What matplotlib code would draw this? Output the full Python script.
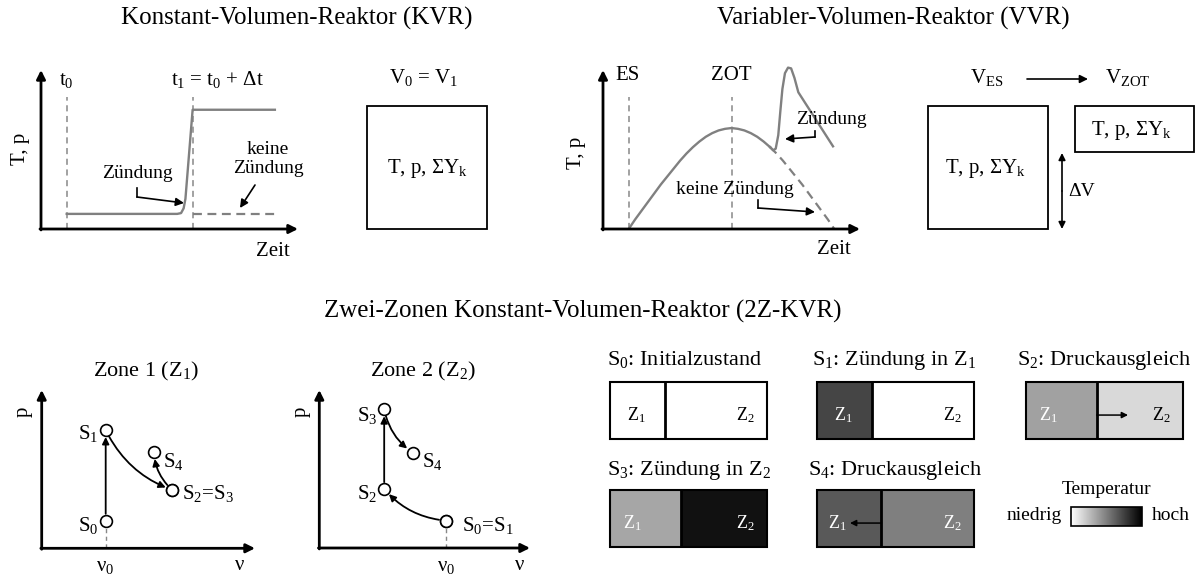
import matplotlib
matplotlib.use("Agg")
import matplotlib.pyplot as plt
import numpy as np
from matplotlib.colors import LinearSegmentedColormap
from matplotlib.patches import Rectangle

plt.rcParams['font.family'] = ['Liberation Serif', 'DejaVu Serif']
plt.rcParams['mathtext.fontset'] = 'custom'
plt.rcParams['mathtext.rm'] = 'Liberation Serif'
plt.rcParams['mathtext.it'] = 'Liberation Serif:italic'
plt.rcParams['mathtext.bf'] = 'Liberation Serif:bold'

# ---------------- data ----------------
# Konstant-Volumen-Reaktor (time / temperature schematic)
kvr_t0, kvr_t1 = 1.0, 5.9
kvr_time = [1.0, 5.3, 5.45, 5.55, 5.62, 5.9, 9.1]
kvr_temp = [0.95, 0.95, 1.0, 1.3, 1.9, 7.5, 7.5]
kvr_noign_time = [5.9, 9.1]
kvr_noign_temp = [0.95, 0.95]

# Variabler-Volumen-Reaktor
vvr_es, vvr_zot = 1.0, 5.0
vvr_time = [1.0, 1.25, 1.5, 1.75, 2.0, 2.25, 2.5, 2.75, 3.0, 3.25, 3.5, 3.75, 4.0,
            4.25, 4.5, 4.75, 5.0, 5.25, 5.5, 5.75, 6.0, 6.25, 6.5]
vvr_temp = [0.0, 0.6, 1.15, 1.7, 2.25, 2.8, 3.3, 3.8, 4.3, 4.75, 5.15, 5.5, 5.8,
            6.03, 6.2, 6.3, 6.35, 6.3, 6.2, 6.03, 5.8, 5.5, 5.15]
vvr_ign_time = [6.5, 6.62, 6.72, 6.82, 6.9, 6.98, 7.08, 7.2, 7.32, 7.45, 7.6, 8.95]
vvr_ign_temp = [5.15, 4.95, 5.05, 5.9, 7.4, 8.8, 9.8, 10.15, 10.1, 9.5, 8.6, 5.2]
vvr_noign_time = [6.5, 6.75, 7.0, 7.25, 7.5, 7.75, 8.0, 8.25, 8.5, 8.75, 9.0]
vvr_noign_temp = [5.15, 4.75, 4.3, 3.8, 3.3, 2.8, 2.25, 1.7, 1.15, 0.6, 0.0]

# Zwei-Zonen: states S0..S4 in the p-v diagrams
state_labels = ['S$_0$', 'S$_1$', 'S$_2$', 'S$_3$', 'S$_4$']
zone1_v = [3.0, 3.0, 6.12, 6.12, 5.26]
zone1_p = [1.74, 7.47, 3.68, 3.68, 6.08]
zone2_v = [6.01, 6.01, 3.08, 3.08, 4.43]
zone2_p = [1.73, 1.73, 3.73, 8.78, 6.03]
zone1_steps = [(0, 1, 0.0), (1, 2, 0.2), (3, 4, -0.2)]
zone2_steps = [(1, 2, -0.2), (2, 3, 0.0), (3, 4, 0.2)]

# state boxes: volume fraction and (relative) temperature of each zone
state_titles = ['S$_0$: Initialzustand', 'S$_1$: Zündung in Z$_1$',
                'S$_2$: Druckausgleich', 'S$_3$: Zündung in Z$_2$',
                'S$_4$: Druckausgleich']
z1_fraction = [0.35, 0.35, 0.45, 0.45, 0.41]
z1_temp = [0.0, 0.73, 0.37, 0.35, 0.65]
z2_temp = [0.0, 0.0, 0.15, 0.93, 0.50]
flow_dir = [0, 0, 1, 0, -1]

# ---------------- figure ----------------
W, H = 1198, 578
fig = plt.figure(figsize=(W / 100, H / 100), dpi=100)
cmap = LinearSegmentedColormap.from_list('temp', ['#ffffff', '#000000'])
GRAY = '#808080'
DASH = '#888888'


def panel(l, t, r, b, xlim=(0, 10), ylim=(0, 10)):
    ax = fig.add_axes([l / W, 1 - b / H, (r - l) / W, (b - t) / H])
    ax.set_xlim(*xlim)
    ax.set_ylim(*ylim)
    ax.axis('off')
    return ax


def axis_arrows(ax):
    kw = dict(arrowstyle='-|>', color='k', lw=2.0, mutation_scale=13,
              shrinkA=0, shrinkB=0)
    ax.annotate('', xy=(1, 0), xytext=(-0.004, 0), xycoords='axes fraction',
                arrowprops=kw, annotation_clip=False)
    ax.annotate('', xy=(0, 1), xytext=(0, -0.006), xycoords='axes fraction',
                arrowprops=kw, annotation_clip=False)


# overlay for text and schematic annotations (pixel coordinates)
ov = fig.add_axes([0, 0, 1, 1], zorder=10)
ov.set_xlim(0, W)
ov.set_ylim(H, 0)
ov.axis('off')
ov.patch.set_visible(False)


def T(x, y, s, fs=15, **kw):
    kw.setdefault('ha', 'center')
    kw.setdefault('va', 'center')
    ov.text(x, y, s, fontsize=fs, **kw)


def arrow(x0, y0, x1, y1, lw=1.2, ms=12, style='-|>'):
    ov.annotate('', xy=(x1, y1), xytext=(x0, y0),
                arrowprops=dict(arrowstyle=style, color='k', lw=lw,
                                mutation_scale=ms, shrinkA=0, shrinkB=0))


# ---- titles ----
T(297, 18, 'Konstant-Volumen-Reaktor (KVR)', fs=18)
T(893, 18, 'Variabler-Volumen-Reaktor (VVR)', fs=18)
T(583, 311, 'Zwei-Zonen Konstant-Volumen-Reaktor (2Z-KVR)', fs=18)

# ---- KVR plot ----
ax = panel(41, 70, 298, 229)
axis_arrows(ax)
for tv in (kvr_t0, kvr_t1):
    ax.plot([tv, tv], [0, 8.3], color=DASH, lw=1.1, ls=(0, (4, 3)))
ax.plot(kvr_time, kvr_temp, color=GRAY, lw=1.7, solid_joinstyle='round')
ax.plot(kvr_noign_time, kvr_noign_temp, color=GRAY, lw=1.6, ls=(0, (4, 2.5)))

T(66, 80, 't$_0$')
T(171, 80, 't$_1$ = t$_0$ + Δt', ha='left')
T(21, 149, 'T, p', rotation=90)
T(273, 251, 'Zeit')
T(137, 174, 'Zündung', fs=14)
T(268, 159, 'keine\nZündung', fs=14, linespacing=1.15)
ov.plot([137, 137], [188, 197], color='k', lw=1.2)
arrow(137, 197, 184, 203)
arrow(255, 185, 240, 208)

# KVR box
ov.add_patch(Rectangle((367, 106), 120, 123, fill=False, lw=1.3, ec='k'))
T(424, 78, 'V$_0$ = V$_1$')
T(427, 168, 'T, p, ΣY$_\\mathrm{k}$')

# ---- VVR plot ----
ax = panel(603, 70, 860, 229)
axis_arrows(ax)
for tv in (vvr_es, vvr_zot):
    ax.plot([tv, tv], [0, 8.3], color=DASH, lw=1.1, ls=(0, (4, 3)))
ax.plot(vvr_noign_time, vvr_noign_temp, color=GRAY, lw=1.6, ls=(0, (4, 2.5)))
ax.plot(vvr_time, vvr_temp, color=GRAY, lw=1.7, solid_joinstyle='round')
ax.plot(vvr_ign_time, vvr_ign_temp, color=GRAY, lw=1.7, solid_joinstyle='round',
        clip_on=False)

T(627, 75, 'ES')
T(731, 75, 'ZOT')
T(577, 153, 'T, p', rotation=90)
T(834, 250, 'Zeit')
T(831, 120, 'Zündung', fs=14)
T(735, 189, 'keine Zündung', fs=14)
ov.plot([815, 815], [131, 137], color='k', lw=1.2)
arrow(815, 137, 785, 139)
ov.plot([758, 758], [200, 208], color='k', lw=1.2)
arrow(758, 208, 815, 212)

# VVR boxes
ov.add_patch(Rectangle((928, 106), 120, 123, fill=False, lw=1.3, ec='k'))
ov.add_patch(Rectangle((1075, 106), 119, 46, fill=False, lw=1.3, ec='k'))
T(987, 77, 'V$_\\mathrm{ES}$')
T(1128, 78, 'V$_\\mathrm{ZOT}$')
arrow(1027, 79, 1088, 79)
T(985, 168, 'T, p, ΣY$_\\mathrm{k}$')
T(1131, 131, 'T, p, ΣY$_\\mathrm{k}$')
arrow(1062, 191, 1062, 153, ms=10)
arrow(1062, 191, 1062, 229, ms=10)
T(1082, 192, 'ΔV', fs=14)

# ---- Zone p-v diagrams ----
def zone(ax, v, p, steps):
    axis_arrows(ax)
    ax.plot([v[0], v[0]], [0, p[0]], color=DASH, lw=1.0, ls=(0, (3, 2.5)))
    for a, b, rad in steps:
        ax.annotate('', xy=(v[b], p[b]), xytext=(v[a], p[a]),
                    arrowprops=dict(arrowstyle='-|>', color='k', lw=1.3,
                                    mutation_scale=10, shrinkA=5, shrinkB=5,
                                    connectionstyle=f'arc3,rad={rad}'))
    ax.plot(v, p, ls='none', marker='o', ms=8.5, mfc='white', mec='k',
            mew=1.2, zorder=5)


ax1 = panel(41.7, 390, 255, 548.3)
zone(ax1, zone1_v, zone1_p, zone1_steps)
ax2 = panel(319.3, 390, 530, 548)
zone(ax2, zone2_v, zone2_p, zone2_steps)

T(146, 371, 'Zone 1 (Z$_1$)', fs=16)
T(423, 371, 'Zone 2 (Z$_2$)', fs=16)
T(23, 412, 'p', rotation=90)
T(301, 412, 'p', rotation=90)
T(105, 566, 'ν$_0$')
T(446, 566, 'ν$_0$')
T(240, 565, 'ν')
T(520, 565, 'ν')
# zone 1 labels
T(98, 434, state_labels[1], ha='right')
T(98, 525, state_labels[0], ha='right')
T(163, 462, state_labels[4], ha='left')
T(182, 494, state_labels[2] + '=' + state_labels[3], ha='left')
# zone 2 labels
T(378, 416, state_labels[3], ha='right')
T(422, 461, state_labels[4], ha='left')
T(377, 494, state_labels[2], ha='right')
T(462, 526, state_labels[0] + '=' + state_labels[1], ha='left')

# ---- state boxes ----
box_px = [(610, 382), (817, 382), (1026, 382), (610, 490), (817, 490)]
title_px = [(607, 360), (812, 360), (1017, 360), (607, 470), (808, 470)]
z1_label_x = [0.17, 0.17, 0.14, 0.14, 0.13]
for i in range(5):
    l, t = box_px[i]
    bx = panel(l, t, l + 157, t + 57, xlim=(0, 1), ylim=(0, 1))
    f = z1_fraction[i]
    bx.barh(0.5, f, height=1.0, left=0, color=cmap(z1_temp[i]), lw=0)
    bx.barh(0.5, 1 - f, height=1.0, left=f, color=cmap(z2_temp[i]), lw=0)
    bx.axvline(f, color='k', lw=2.0)
    bx.add_patch(Rectangle((0, 0), 1, 1, fill=False, lw=1.5, ec='k',
                           transform=bx.transAxes, clip_on=False))
    c1 = 'white' if z1_temp[i] > 0.3 else 'black'
    c2 = 'white' if z2_temp[i] > 0.3 else 'black'
    bx.text(z1_label_x[i], 0.42, 'Z$_1$', color=c1, fontsize=13,
            ha='center', va='center')
    bx.text(0.86, 0.42, 'Z$_2$', color=c2, fontsize=13, ha='center',
            va='center')
    if flow_dir[i] != 0:
        end = f + 0.2 * flow_dir[i]
        bx.annotate('', xy=(end, 0.42), xytext=(f, 0.42),
                    arrowprops=dict(arrowstyle='-|>', color='k', lw=1.1,
                                    mutation_scale=9, shrinkA=0, shrinkB=0))
    T(title_px[i][0], title_px[i][1], state_titles[i], fs=16, ha='left')

# ---- temperature legend ----
lx = panel(1071, 507, 1142, 526, xlim=(0, 1), ylim=(0, 1))
lx.imshow(np.linspace(0, 1, 256)[None, :], cmap=cmap, aspect='auto',
          extent=(0, 1, 0, 1))
lx.add_patch(Rectangle((0, 0), 1, 1, fill=False, lw=1.2, ec='k',
                       transform=lx.transAxes, clip_on=False))
T(1107, 490, 'Temperatur', fs=14)
T(1062, 516, 'niedrig', fs=14, ha='right')
T(1152, 516, 'hoch', fs=14, ha='left')

fig.savefig('out.png', dpi=100)
